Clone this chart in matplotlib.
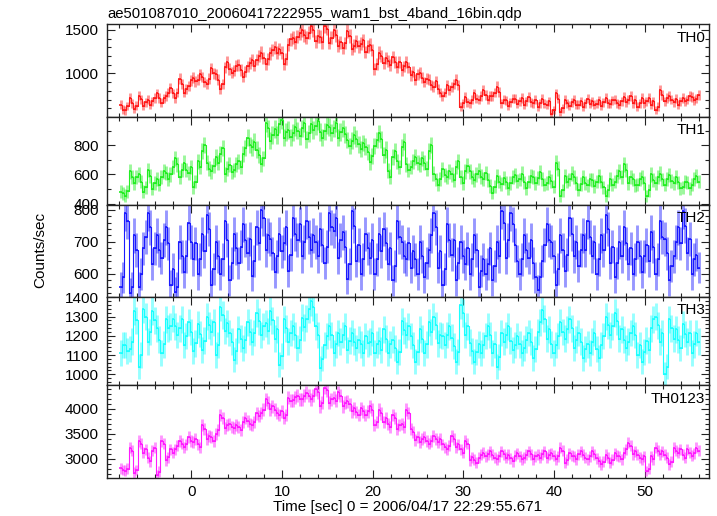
import numpy as np
import matplotlib
matplotlib.use('Agg')
import matplotlib.pyplot as plt
from matplotlib.ticker import MultipleLocator

plt.rcParams['font.family'] = ['Liberation Sans', 'DejaVu Sans']

title = "ae501087010_20060417222955_wam1_bst_4band_16bin.qdp"
xlabel = "Time [sec] 0 = 2006/04/17 22:29:55.671"
ylabel = "Counts/sec"
band_names = ["TH0", "TH1", "TH2", "TH3", "TH0123"]
bin_width = 0.25
t_first = -7.8

th0 = [640, 585, 575, 625, 720, 660, 590, 630, 745, 705, 630, 670, 700, 640, 680, 720,
       770, 720, 665, 715, 740, 780, 830, 770, 720, 780, 940, 880, 780, 820, 860, 920,
       950, 910, 930, 990, 960, 900, 880, 940, 1060, 1000, 990, 930, 820, 880, 1070, 1130,
       1050, 1010, 1030, 1090, 1100, 1040, 960, 1020, 1080, 1120, 1150, 1090, 1160, 1200, 1240, 1180,
       1110, 1170, 1230, 1270, 1300, 1240, 1280, 1240, 1110, 1170, 1330, 1390, 1410, 1360, 1420, 1460,
       1500, 1440, 1410, 1470, 1540, 1500, 1370, 1430, 1420, 1360, 1545, 1515, 1350, 1410, 1500, 1440,
       1320, 1360, 1290, 1350, 1490, 1430, 1280, 1320, 1370, 1310, 1340, 1380, 1250, 1310, 1330, 1270,
       1050, 1110, 1240, 1200, 1120, 1180, 1140, 1100, 1190, 1130, 1070, 1130, 1040, 1080, 1130, 1070,
       980, 1020, 930, 990, 1010, 950, 900, 940, 930, 870, 850, 910, 820, 780, 740, 780,
       870, 810, 840, 880, 930, 870, 620, 660, 730, 670, 660, 700, 770, 710, 700, 740,
       810, 750, 700, 740, 740, 780, 850, 790, 660, 700, 690, 630, 670, 710, 710, 650,
       680, 720, 640, 680, 730, 670, 660, 700, 620, 660, 710, 650, 640, 680, 540, 580,
       770, 710, 560, 600, 700, 660, 630, 670, 700, 640, 640, 680, 620, 660, 710, 650,
       680, 640, 650, 690, 630, 670, 720, 660, 650, 690, 700, 660, 640, 680, 730, 670,
       700, 740, 660, 700, 620, 660, 720, 660, 680, 720, 640, 680, 580, 620, 810, 750,
       680, 720, 740, 700, 670, 710, 640, 680, 720, 680, 700, 740, 730, 690, 710, 750]

th1 = [480, 470, 455, 485, 620, 580, 540, 580, 600, 550, 480, 510, 630, 590, 500, 540,
       570, 530, 580, 620, 610, 570, 600, 650, 710, 670, 580, 630, 680, 630, 610, 650,
       510, 550, 690, 650, 760, 800, 680, 640, 620, 660, 720, 680, 740, 780, 600, 640,
       665, 615, 630, 670, 690, 650, 740, 780, 850, 800, 785, 825, 770, 730, 670, 710,
       955, 915, 830, 870, 910, 870, 945, 975, 850, 890, 905, 855, 885, 925, 900, 860,
       915, 955, 840, 880, 945, 905, 930, 965, 890, 850, 895, 935, 925, 885, 915, 955,
       850, 890, 915, 875, 835, 795, 830, 870, 845, 805, 775, 815, 790, 750, 685, 725,
       795, 835, 880, 840, 730, 770, 625, 585, 720, 760, 690, 650, 785, 825, 670, 630,
       650, 690, 720, 680, 670, 710, 680, 640, 760, 800, 605, 565, 530, 570, 635, 595,
       580, 620, 600, 560, 650, 690, 580, 540, 620, 660, 620, 580, 560, 600, 625, 585,
       570, 610, 560, 520, 475, 515, 590, 550, 535, 575, 545, 505, 540, 580, 595, 555,
       565, 605, 545, 505, 550, 590, 580, 540, 575, 615, 570, 530, 540, 580, 555, 515,
       680, 640, 450, 490, 590, 550, 565, 605, 580, 540, 495, 535, 580, 540, 525, 565,
       560, 520, 550, 590, 550, 510, 450, 490, 570, 530, 550, 590, 620, 580, 670, 630,
       540, 580, 565, 525, 530, 570, 580, 540, 450, 490, 600, 560, 540, 580, 605, 565,
       530, 570, 595, 555, 540, 580, 545, 505, 510, 550, 545, 505, 530, 570, 590, 550]

th2 = [560, 590, 790, 765, 540, 560, 720, 675, 560, 600, 680, 715, 790, 745, 630, 680,
       720, 675, 650, 705, 745, 695, 565, 615, 545, 560, 700, 655, 605, 655, 760, 700,
       645, 695, 600, 645, 725, 670, 785, 740, 565, 615, 700, 655, 600, 645, 765, 705,
       580, 635, 725, 680, 635, 685, 755, 705, 665, 710, 595, 640, 745, 695, 800, 775,
       675, 720, 710, 665, 605, 655, 725, 670, 695, 745, 610, 660, 775, 725, 705, 755,
       655, 700, 765, 715, 675, 720, 700, 655, 740, 690, 635, 685, 790, 745, 735, 775,
       650, 705, 730, 685, 585, 630, 795, 750, 640, 690, 600, 645, 725, 680, 650, 705,
       600, 645, 725, 670, 740, 695, 630, 680, 580, 625, 765, 715, 700, 655, 645, 695,
       620, 670, 645, 600, 700, 655, 590, 635, 675, 720, 790, 745, 620, 670, 565, 615,
       755, 705, 660, 705, 580, 635, 700, 655, 630, 680, 600, 645, 720, 675, 560, 610,
       645, 600, 630, 680, 580, 625, 700, 655, 795, 760, 650, 705, 790, 755, 690, 640,
       600, 645, 720, 675, 650, 705, 635, 590, 550, 590, 640, 690, 755, 705, 700, 655,
       565, 615, 720, 675, 610, 660, 775, 725, 655, 700, 625, 675, 720, 675, 765, 715,
       655, 700, 600, 645, 720, 675, 785, 740, 635, 685, 590, 635, 700, 655, 745, 695,
       630, 680, 600, 645, 700, 655, 605, 655, 690, 640, 730, 685, 600, 645, 765, 715,
       710, 665, 580, 625, 655, 700, 745, 695, 795, 750, 665, 710, 600, 645, 660, 620]

th3 = [1110, 1150, 1150, 1120, 1130, 1170, 1330, 1280, 1040, 1100, 1340, 1300, 1170, 1220, 1330, 1280,
       1240, 1180, 1110, 1155, 1285, 1240, 1250, 1290, 1250, 1205, 1240, 1285, 1150, 1200, 1270, 1220,
       1120, 1160, 1260, 1210, 1125, 1175, 1300, 1255, 1220, 1270, 1100, 1150, 1350, 1310, 1225, 1265,
       1215, 1170, 1075, 1120, 1235, 1185, 1135, 1180, 1270, 1220, 1170, 1215, 1320, 1275, 1205, 1250,
       1265, 1225, 1330, 1280, 1185, 1235, 1050, 1095, 1285, 1240, 1170, 1215, 1250, 1205, 1135, 1180,
       1295, 1245, 1290, 1340, 1380, 1350, 1250, 1205, 1030, 1080, 1150, 1200, 1250, 1205, 1110, 1155,
       1215, 1170, 1205, 1250, 1125, 1175, 1215, 1170, 1135, 1180, 1155, 1110, 1200, 1160, 1170, 1215,
       1110, 1155, 1175, 1125, 1235, 1185, 1110, 1155, 1180, 1135, 1065, 1115, 1275, 1230, 1205, 1250,
       1200, 1150, 1065, 1115, 1235, 1185, 1110, 1155, 1270, 1220, 1300, 1255, 1160, 1205, 1200, 1150,
       1205, 1250, 1190, 1145, 1065, 1115, 1360, 1320, 1205, 1250, 1165, 1120, 1065, 1115, 1155, 1110,
       1150, 1200, 1250, 1205, 1110, 1155, 1040, 1090, 1215, 1170, 1205, 1250, 1175, 1125, 1150, 1200,
       1155, 1110, 1135, 1180, 1215, 1170, 1085, 1130, 1220, 1270, 1335, 1290, 1185, 1235, 1155, 1110,
       1150, 1200, 1270, 1220, 1185, 1235, 1285, 1240, 1135, 1180, 1215, 1170, 1085, 1130, 1155, 1110,
       1170, 1215, 1130, 1085, 1150, 1200, 1300, 1255, 1205, 1250, 1320, 1275, 1185, 1235, 1180, 1135,
       1170, 1215, 1250, 1205, 1100, 1150, 1065, 1115, 1175, 1125, 1240, 1285, 1300, 1255, 1170, 1215,
       1000, 1040, 1285, 1240, 1185, 1235, 1180, 1135, 1260, 1210, 1170, 1215, 1110, 1155, 1215, 1170]

th0123 = [2810, 2770, 2760, 2800, 3220, 3160, 2720, 2770, 3360, 3300, 3120, 3190, 3020, 2950, 3160, 3220,
          2680, 2740, 3360, 3300, 2970, 3030, 3190, 3120, 3190, 3260, 3360, 3300, 3230, 3290, 3430, 3360,
          3330, 3390, 3290, 3230, 3670, 3600, 3400, 3460, 3430, 3360, 3500, 3570, 3880, 3810, 3610, 3670,
          3700, 3640, 3610, 3670, 3630, 3570, 3740, 3810, 3750, 3690, 3680, 3730, 3910, 3850, 3920, 3980,
          4190, 4120, 3990, 4050, 3980, 3920, 3880, 3950, 3810, 3880, 4220, 4160, 4170, 4230, 4260, 4190,
          4190, 4260, 4320, 4260, 4190, 4260, 4390, 4330, 4050, 4120, 4420, 4370, 4120, 4190, 4220, 4160,
          4330, 4260, 4050, 4120, 4150, 4090, 3950, 4010, 3940, 3880, 4010, 3950, 3880, 3950, 4050, 3980,
          3680, 3740, 3980, 3910, 3740, 3810, 3700, 3640, 3880, 3810, 3600, 3670, 3700, 3640, 3980, 3920,
          3600, 3530, 3370, 3430, 3330, 3390, 3430, 3360, 3300, 3360, 3460, 3400, 3330, 3390, 3290, 3230,
          3190, 3260, 3460, 3400, 3230, 3290, 3190, 3120, 3360, 3300, 2970, 3030, 2980, 2920, 3020, 3080,
          3120, 3050, 3090, 3150, 3080, 3020, 2990, 3050, 3150, 3090, 3020, 3080, 3010, 2950, 3060, 3110,
          3050, 2990, 3020, 3080, 3150, 3090, 2990, 3050, 3080, 3020, 3090, 3150, 3020, 3080, 3110, 3060,
          2990, 3050, 3220, 3160, 2920, 2980, 3110, 3060, 3050, 2990, 3090, 3150, 3080, 3020, 2990, 3050,
          3150, 3090, 3010, 2950, 2890, 2940, 3080, 3020, 2920, 2980, 3110, 3060, 3050, 2990, 3120, 3190,
          3320, 3260, 3090, 3150, 3080, 3020, 2990, 3050, 2750, 2800, 3050, 2990, 3220, 3160, 3090, 3150,
          3080, 3020, 2890, 2940, 3220, 3160, 3120, 3190, 3080, 3020, 3190, 3120, 3060, 3110, 3220, 3160]

series = [th0, th1, th2, th3, th0123]
colors = ['#ff1a1a', '#22ee22', '#1a1aff', '#1affff', '#ff1aff']
ylims = [(500, 1568), (390, 993), (528, 815), (944, 1402), (2614, 4476)]
yticks = [[1000, 1500], [400, 600, 800], [600, 700, 800],
          [1000, 1100, 1200, 1300, 1400], [3000, 3500, 4000]]
yminor = [100, 100, 20, 20, 100]
xlim = (-9.3, 57.1)
xticks = [0, 10, 20, 30, 40, 50]

W, H = 717, 516
fig = plt.figure(figsize=(W / 100, H / 100), dpi=100)
left_px, right_px = 107, 709
bounds = [24, 117, 205, 297, 385, 478]
fs = 11

for k in range(5):
    y0, y1 = bounds[k], bounds[k + 1]
    ax = fig.add_axes([left_px / W, 1 - y1 / H, (right_px - left_px) / W, (y1 - y0) / H])
    vals = np.array(series[k], dtype=float)
    t = t_first + bin_width * np.arange(len(vals))
    err = np.sqrt(vals / bin_width)
    c = colors[k]
    ax.errorbar(t, vals, yerr=err, fmt='none', ecolor=c, elinewidth=2.1, alpha=0.45, capsize=0)
    ax.errorbar(t, vals, xerr=bin_width / 2, fmt='none', ecolor=c, elinewidth=1.2, capsize=0)
    ax.step(t, vals, where='mid', color=c, lw=0.8)
    ax.set_xlim(*xlim)
    ax.set_ylim(*ylims[k])
    ax.set_yticks(yticks[k])
    ax.yaxis.set_minor_locator(MultipleLocator(yminor[k]))
    ax.set_xticks(xticks)
    ax.xaxis.set_minor_locator(MultipleLocator(2))
    ax.tick_params(which='both', direction='in', top=True, right=True, labelsize=fs,
                   width=0.8, color='#222222')
    ax.tick_params(which='major', length=6, pad=6)
    ax.tick_params(which='minor', length=3)
    ax.tick_params(axis='x', which='major', pad=5)
    if k < 4:
        ax.tick_params(labelbottom=False)
    for s in ax.spines.values():
        s.set_linewidth(1.0)
        s.set_color('#222222')
    ax.text(0.994, 0.93, band_names[k], transform=ax.transAxes, ha='right', va='top', fontsize=fs)
    if k == 0:
        ax.set_title(title, loc='left', fontsize=10.7, pad=4)
    if k == 4:
        ax.set_xlabel(xlabel, fontsize=fs, labelpad=1)

fig.text(40 / W, 1 - 250 / H, ylabel, rotation=90, ha='center', va='center', fontsize=fs)
fig.savefig('out.png', dpi=100)
